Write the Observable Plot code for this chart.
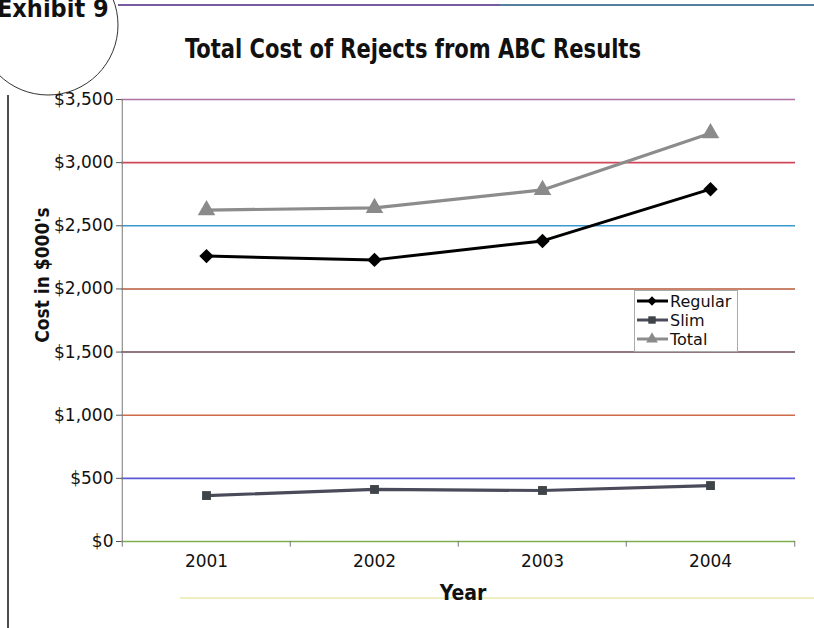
<!DOCTYPE html>
<html><head><meta charset="utf-8">
<script src="https://cdn.jsdelivr.net/npm/d3@7"></script>
<script src="https://cdn.jsdelivr.net/npm/@observablehq/plot@0.6"></script>
<style>
body{margin:0;background:#fff;}
#wrap{position:relative;width:814px;height:628px;overflow:hidden;font-family:"DejaVu Sans",sans-serif;}
.cond{font-family:"DejaVu Sans Condensed","DejaVu Sans",sans-serif;font-stretch:condensed;font-weight:bold;}
#title{position:absolute;left:413px;top:34px;transform:translateX(-50%) scaleX(0.9);font-size:26px;color:#111;white-space:nowrap;}
#exh{position:absolute;left:-3px;top:-6px;font-size:25px;color:#111;}
#ylab{position:absolute;left:42px;top:275px;transform:translate(-50%,-50%) rotate(-90deg) scaleX(0.95);font-size:20px;white-space:nowrap;color:#111;}
#xlab{position:absolute;left:463px;top:581px;transform:translateX(-50%);font-size:21px;color:#111;}
#legend{position:absolute;left:634px;top:290px;width:104px;height:62px;background:#fff;border:1px solid #aaa;box-sizing:border-box;}
#deco,#chart{position:absolute;left:0;top:0;}
#chart svg text{font-size:17px;}
</style></head>
<body><div id="wrap">
<svg id="deco" width="814" height="628">
  <line x1="118" y1="5" x2="814" y2="5" stroke="#7a5aa0" stroke-width="2"/>
  <line x1="500" y1="5" x2="814" y2="5" stroke="#3a9a9a" stroke-width="2" opacity="0.6"/>
  <line x1="8" y1="95" x2="8" y2="628" stroke="#111" stroke-width="1.5"/>
  <line x1="180" y1="598" x2="814" y2="598" stroke="#f0eec0" stroke-width="2"/>
  <circle cx="48" cy="25" r="70" fill="none" stroke="#333" stroke-width="1"/>
</svg>
<div id="chart"></div>
<div id="exh" class="cond">Exhibit 9</div>
<div id="title" class="cond">Total Cost of Rejects from ABC Results</div>
<div id="ylab" class="cond">Cost in $000's</div>
<div id="xlab" class="cond">Year</div>
<div id="legend"></div>
</div>
<script>
const years = ["2001","2002","2003","2004"];
const regular = [2260, 2230, 2380, 2790];
const slim = [364, 412, 404, 443];
const total = [2624, 2642, 2784, 3233];
const yTicks = [0, 500, 1000, 1500, 2000, 2500, 3000, 3500];
const seriesNames = ["Regular", "Slim", "Total"];

const gridColors = ["#7fae50", "#5a5ad8", "#d06a48", "#6a4a58", "#b85a3a", "#3a9ad0", "#d04858", "#b070a8"];
const styles = {
  Regular: {stroke: "#000", symbol: d3.symbolDiamond2, fill: "#000", r: 6.5},
  Slim: {stroke: "#4a4a5a", symbol: d3.symbolSquare, fill: "#3e4448", r: 5},
  Total: {stroke: "#8c8c8c", symbol: d3.symbolTriangle, fill: "#8a8a8a", r: 6.5}
};
const values = {Regular: regular, Slim: slim, Total: total};
const rows = seriesNames.flatMap(s => years.map((y, i) => ({series: s, year: y, value: values[s][i]})));
const grid = yTicks.map((v, i) => ({v, c: gridColors[i]}));

const step = (795 - 121) / years.length;

const chart = Plot.plot({
  width: 814, height: 628,
  marginLeft: 121, marginRight: 19, marginTop: 99, marginBottom: 87,
  x: {type: "point", domain: years, padding: 0.5, axis: null},
  y: {domain: [0, 3500], axis: null},
  style: {background: "transparent", overflow: "visible", fontFamily: "DejaVu Sans, sans-serif"},
  marks: [
    Plot.ruleY(grid, {y: "v", stroke: "c", strokeWidth: 1.6}),
    Plot.axisY({ticks: yTicks, tickFormat: d => "$" + d3.format(",")(d), tickSize: 5, tickPadding: 3,
      fill: "#111", stroke: "#555", label: null}),
    Plot.ruleX([years[0]], {x: d => d, dx: -step / 2, y1: 0, y2: 3500, stroke: "#777", strokeWidth: 1}),
    Plot.ruleX(years, {x: d => d, dx: -step / 2, y1: 0, y2: -45, stroke: "#777"}),
    Plot.ruleX([years[years.length - 1]], {x: d => d, dx: step / 2, y1: 0, y2: -45, stroke: "#777"}),
    Plot.axisX({ticks: years, tickSize: 0, tickPadding: 13, fill: "#111", label: null}),
    ...seriesNames.map(s => Plot.line(rows.filter(d => d.series === s), {x: "year", y: "value", stroke: styles[s].stroke, strokeWidth: s === "Regular" ? 3 : 3.2})),
    ...seriesNames.map(s => Plot.dot(rows.filter(d => d.series === s), {x: "year", y: "value", symbol: styles[s].symbol, fill: styles[s].fill, r: styles[s].r, stroke: "none"}))
  ]
});
document.getElementById("chart").appendChild(chart);

// legend
const leg = d3.select("#legend").append("svg").attr("width", 102).attr("height", 60);
seriesNames.forEach((s, i) => {
  const g = leg.append("g").attr("transform", `translate(0,${10 + i * 19})`);
  g.append("line").attr("x1", 2).attr("x2", 33).attr("y1", 0).attr("y2", 0).attr("stroke", styles[s].stroke).attr("stroke-width", 3);
  g.append("path").attr("transform", "translate(17,0)").attr("d", d3.symbol(styles[s].symbol, s === "Total" ? 60 : 55)()).attr("fill", styles[s].fill);
  g.append("text").attr("x", 35).attr("y", 6).attr("font-size", 16).attr("font-family", "DejaVu Sans, sans-serif").attr("fill", "#111").text(s);
});
</script>
</body></html>
